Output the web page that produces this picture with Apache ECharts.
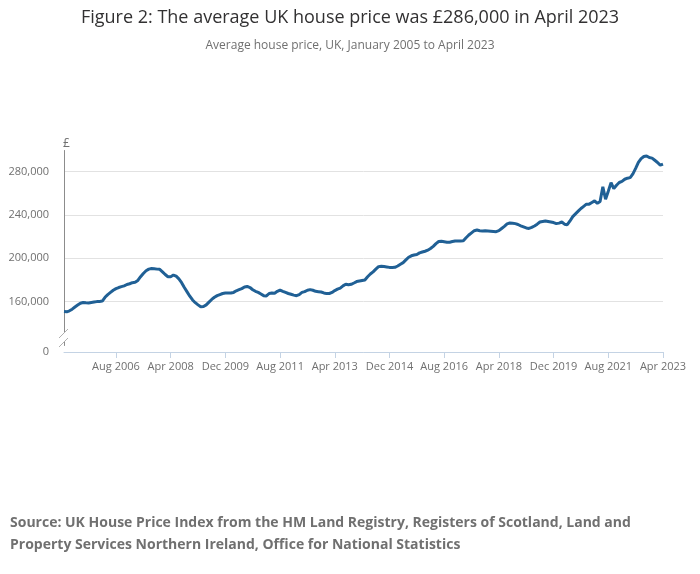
<!DOCTYPE html>
<html>
<head>
<meta charset="utf-8">
<script src="https://cdn.jsdelivr.net/npm/echarts@6.0.0/dist/echarts.min.js"></script>
<style>
  html, body { margin: 0; padding: 0; background: #fff; }
  #chart { width: 700px; height: 574px; }
</style>
</head>
<body>
<div id="chart"></div>
<script>
// data, monthly, Jan 2005 .. Apr 2023
var monthNames = ['Jan', 'Feb', 'Mar', 'Apr', 'May', 'Jun', 'Jul', 'Aug', 'Sep', 'Oct', 'Nov', 'Dec'];
var firstYear = 2005;
var lastYear = 2023;
var lastMonth = 4;

var prices = [
  // 2005
  150800, 150600, 151500, 153000, 155000, 156800, 158500, 159200, 158900, 158800, 159200, 159600,
  // 2006
  160000, 160200, 160500, 164000, 166500, 168500, 170500, 172000, 173000, 173800, 174500, 175800,
  // 2007
  176500, 177500, 177800, 179500, 183000, 186000, 188500, 190000, 190500, 190400, 190000, 189800,
  // 2008
  187500, 185000, 183000, 183000, 184500, 183500, 181000, 177500, 173000, 169000, 165000, 161500,
  // 2009
  159000, 157000, 155200, 155500, 157000, 159500, 162000, 164000, 165500, 166500, 167500, 168000,
  // 2010
  168000, 168000, 168500, 170000, 171000, 172000, 173500, 174000, 173000, 171000, 169500, 168500,
  // 2011
  167000, 165500, 165200, 167500, 168000, 167700, 169500, 170700, 169500, 168500, 167500, 166800,
  // 2012
  166000, 165500, 166500, 168500, 169200, 170500, 171100, 170500, 169500, 169200, 168900, 168000,
  // 2013
  167400, 167500, 168500, 170200, 171500, 172500, 174500, 176000, 175500, 176000, 177200, 178500,
  // 2014
  179000, 179500, 180000, 183000, 185500, 187500, 190000, 192300, 192600, 192400, 192000, 191600,
  // 2015
  191400, 191700, 192900, 194500, 196000, 198500, 201000, 202300, 203000, 203500, 205000, 205800,
  // 2016
  206500, 207500, 209000, 211000, 213500, 215500, 215700, 215300, 214900, 214800, 215500, 216000,
  // 2017
  216000, 216000, 216200, 219000, 221500, 223500, 225500, 226100, 225500, 225200, 225400, 225200,
  // 2018
  225000, 224800, 224600, 225500, 227500, 229500, 231800, 232600, 232400, 232000, 231200, 230000,
  // 2019
  229000, 228000, 227600, 228500, 229800, 231500, 233500, 234000, 234500, 234000, 233500, 233000,
  // 2020
  232000, 232500, 233500, 231500, 231000, 234500, 238500, 241000, 243500, 246000, 248000, 250000,
  // 2021
  250000, 251500, 253000, 250800, 252500, 266000, 254500, 262000, 269800, 264300, 267500, 270000,
  // 2022
  271000, 273000, 274000, 274500, 278000, 283000, 288500, 292000, 294000, 294500, 293000, 292500,
  // 2023
  290500, 288500, 286000, 287000
];

var yTicks = [0, 160000, 200000, 240000, 280000];

var months = [];
for (var y = firstYear; y <= lastYear; y++) {
  for (var m = 0; m < 12; m++) {
    if (y === lastYear && m >= lastMonth) break;
    months.push(monthNames[m] + ' ' + y);
  }
}

var myChart = echarts.init(document.getElementById('chart'));

var option = {
  backgroundColor: '#fff',
  animation: false,
  textStyle: { fontFamily: 'Open Sans' },
  title: [
    {
      text: 'Figure 2: The average UK house price was £286,000 in April 2023',
      subtext: 'Average house price, UK, January 2005 to April 2023',
      left: 'center',
      top: 4,
      itemGap: 13,
      textStyle: { fontFamily: 'Open Sans', fontWeight: 'normal', fontSize: 18, color: '#323132' },
      subtextStyle: { fontFamily: 'Open Sans', fontSize: 12, color: '#707070' }
    },
    {
      text: 'Source: UK House Price Index from the HM Land Registry, Registers of Scotland, Land and\nProperty Services Northern Ireland, Office for National Statistics',
      left: 5,
      top: 507,
      textStyle: { fontFamily: 'Open Sans', fontWeight: 'bold', fontSize: 14, lineHeight: 22, color: '#707070' }
    }
  ],
  grid: { left: 64, right: 37, top: 150, bottom: 222, containLabel: false },
  xAxis: {
    type: 'category',
    data: months,
    boundaryGap: false,
    axisLine: { lineStyle: { color: '#c4d3e4', width: 1 } },
    axisTick: {
      show: true,
      length: 6,
      interval: function (i) { return (i + 1) % 20 === 0; },
      lineStyle: { color: '#c4d3e4' }
    },
    axisLabel: {
      interval: function (i) { return (i + 1) % 20 === 0; },
      color: '#707070',
      fontSize: 11,
      margin: 9
    },
    splitLine: { show: false }
  },
  yAxis: {
    type: 'value',
    min: 0,
    max: 300000,
    interval: 40000,
    name: '£',
    nameLocation: 'end',
    nameGap: 0,
    nameTextStyle: { color: '#707070', fontSize: 12, align: 'left', padding: [0, 0, 0, -1] },
    // break from 0 to 120k so the lower part of the axis collapses
    breaks: [{ start: 0, end: 120000, gap: '3.5%' }],
    breakArea: { show: false },
    axisLine: { show: true, lineStyle: { color: '#8c8c8c', width: 1 } },
    axisTick: { show: false },
    axisLabel: {
      color: '#707070',
      fontSize: 11,
      margin: 15,
      formatter: function (v) {
        return yTicks.indexOf(v) >= 0 ? v.toLocaleString('en-GB') : '';
      }
    },
    splitLine: { show: true, showMaxLine: false, lineStyle: { color: '#e2e2e2', width: 1 } }
  },
  series: [
    {
      name: 'Average house price',
      type: 'line',
      data: prices,
      showSymbol: false,
      lineStyle: { color: '#206095', width: 3 },
      itemStyle: { color: '#206095' },
      z: 3
    }
  ],
  graphic: [
    { type: 'rect', shape: { x: 61, y: 333, width: 5, height: 9 }, style: { fill: '#fff' }, z: 100 },
    { type: 'line', shape: { x1: 59, y1: 338, x2: 68, y2: 329 }, style: { stroke: '#b0b0b0', lineWidth: 1 }, z: 101 },
    { type: 'line', shape: { x1: 59, y1: 347, x2: 68, y2: 338 }, style: { stroke: '#b0b0b0', lineWidth: 1 }, z: 101 }
  ]
};

myChart.setOption(option);
</script>
</body>
</html>
